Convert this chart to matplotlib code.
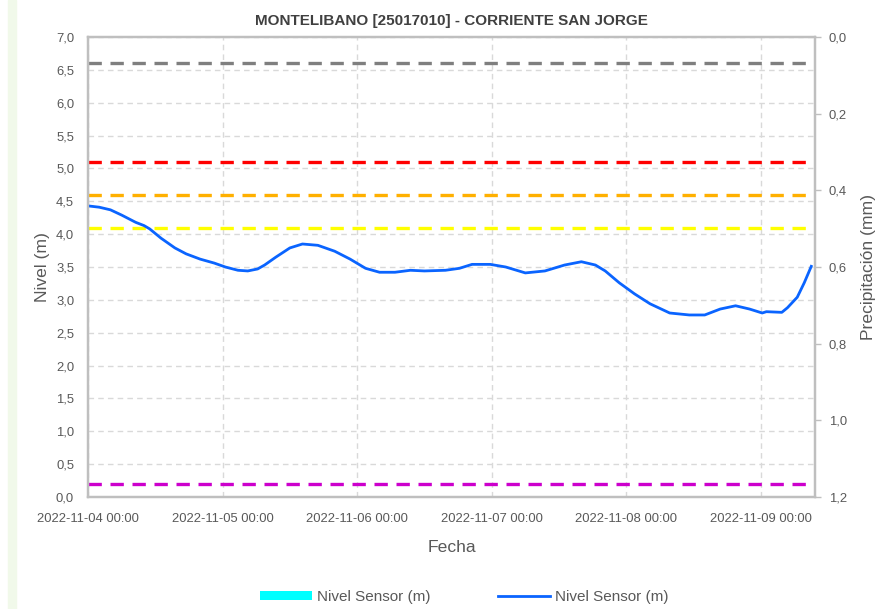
#!/usr/bin/python3.12
# Nivel del rio - Montelibano, grafica de nivel y umbrales
import numpy as np
import pandas as pd
import matplotlib
matplotlib.use("Agg")
import matplotlib.pyplot as plt
import matplotlib.dates as mdates
from matplotlib.patches import Patch, Rectangle
from matplotlib.lines import Line2D
from matplotlib.ticker import FuncFormatter, MultipleLocator

plt.rcParams['font.family'] = ['Liberation Sans', 'DejaVu Sans']

# Data
fechas = ["2022-11-04 00:00", "2022-11-04 02:00", "2022-11-04 04:00", "2022-11-04 06:00",
          "2022-11-04 08:30", "2022-11-04 10:00", "2022-11-04 11:00", "2022-11-04 13:00",
          "2022-11-04 15:30", "2022-11-04 17:30", "2022-11-04 20:00", "2022-11-04 22:30",
          "2022-11-05 00:30", "2022-11-05 02:45", "2022-11-05 04:30", "2022-11-05 06:15",
          "2022-11-05 07:30", "2022-11-05 09:30", "2022-11-05 12:00", "2022-11-05 14:15",
          "2022-11-05 17:00", "2022-11-05 20:00", "2022-11-05 22:45", "2022-11-06 01:30",
          "2022-11-06 04:00", "2022-11-06 06:45", "2022-11-06 09:30", "2022-11-06 12:00",
          "2022-11-06 15:45", "2022-11-06 18:15", "2022-11-06 20:30", "2022-11-06 23:45",
          "2022-11-07 02:30", "2022-11-07 06:00", "2022-11-07 09:30", "2022-11-07 13:00",
          "2022-11-07 16:00", "2022-11-07 18:30", "2022-11-07 20:15", "2022-11-07 22:45",
          "2022-11-08 01:30", "2022-11-08 04:15", "2022-11-08 07:45", "2022-11-08 11:15",
          "2022-11-08 14:00", "2022-11-08 16:45", "2022-11-08 19:30", "2022-11-08 22:00",
          "2022-11-09 00:15", "2022-11-09 01:00", "2022-11-09 03:45", "2022-11-09 04:45",
          "2022-11-09 06:30", "2022-11-09 07:45", "2022-11-09 09:00"]
nivel = [4.43, 4.41, 4.37, 4.29, 4.18, 4.13, 4.08, 3.94, 3.79, 3.70, 3.62, 3.56,
         3.50, 3.45, 3.44, 3.47, 3.53, 3.65, 3.79, 3.85, 3.83, 3.74, 3.62, 3.48,
         3.42, 3.42, 3.45, 3.44, 3.45, 3.48, 3.54, 3.54, 3.50, 3.41, 3.44, 3.53,
         3.58, 3.53, 3.44, 3.26, 3.09, 2.94, 2.80, 2.77, 2.77, 2.86, 2.91, 2.86,
         2.80, 2.82, 2.81, 2.88, 3.04, 3.26, 3.51]

umbrales = [6.6, 5.1, 4.6, 4.1, 0.2]
colores_umbral = ['#7f7f7f', '#ff0000', '#ffb000', '#ffff00', '#cc00cc']

titulo = "MONTELIBANO [25017010] - CORRIENTE SAN JORGE"

t = pd.to_datetime(fechas)
gray_txt = '#595959'
spine_col = '#bfbfbf'

fig = plt.figure(figsize=(8.81, 6.09), dpi=100)
fig.patches.append(Rectangle((8 / 881, 0), 8 / 881, 1, transform=fig.transFigure,
                             color='#f1f9ea', zorder=0))
ax = fig.add_axes([88 / 881, 1 - 497 / 609, (815 - 88) / 881, (497 - 37) / 609])

# grid
ax.grid(True, color='#d9d9d9', linestyle=(0, (4, 3)), linewidth=1.0)
ax.set_axisbelow(True)

for u, c in zip(umbrales, colores_umbral):
    ax.axhline(u, color=c, linewidth=2.4, dashes=(4, 2.6), zorder=2)

ax.plot(t, nivel, color='#0a64ff', linewidth=2.0, zorder=3)

ax.set_ylim(0, 7)
ax.yaxis.set_major_locator(MultipleLocator(0.5))
ax.yaxis.set_major_formatter(FuncFormatter(lambda v, p: f"{v:.1f}".replace('.', ',')))
ax.set_xlim(pd.Timestamp("2022-11-04 00:00"), pd.Timestamp("2022-11-09 09:40"))
ax.xaxis.set_major_locator(mdates.DayLocator())
ax.xaxis.set_major_formatter(mdates.DateFormatter('%Y-%m-%d %H:%M'))
ax.tick_params(axis='both', length=0, labelsize=9.4, labelcolor=gray_txt)
ax.tick_params(axis='y', pad=10)
ax.tick_params(axis='x', pad=11.5)

for s in ax.spines.values():
    s.set_color(spine_col)
    s.set_linewidth(1.6)

ax.set_ylabel("Nivel (m)", fontsize=12.6, color=gray_txt, labelpad=4)
ax.set_xlabel("Fecha", fontsize=12.6, color=gray_txt, labelpad=11)
ax.set_title(titulo, fontsize=11, fontweight='bold', color='#404040', pad=9)

# eje de precipitacion (derecha, invertido)
ax2 = ax.twinx()
ax2.set_ylim(1.2, 0)
ax2.yaxis.set_major_locator(MultipleLocator(0.2))
ax2.yaxis.set_major_formatter(FuncFormatter(lambda v, p: f"{v:.1f}".replace('.', ',')))
ax2.tick_params(axis='y', length=4, width=1, color=spine_col, labelsize=9.4,
                labelcolor=gray_txt, pad=6)
for s in ax2.spines.values():
    s.set_color(spine_col)
    s.set_linewidth(1.6)
ax2.set_ylabel("Precipitación (mm)", fontsize=12.6, color=gray_txt, labelpad=10)

handles = [Patch(facecolor='#00ffff', edgecolor='none'),
           Line2D([0], [0], color='#0a64ff', linewidth=2.0)]
fig.legend(handles, ["Nivel Sensor (m)", "Nivel Sensor (m)"], loc='center',
           bbox_to_anchor=(0.527, 0.02), ncol=2, frameon=False, fontsize=11,
           handlelength=3.4, handleheight=0.6, handletextpad=0.35, columnspacing=4.4,
           labelcolor=gray_txt)

fig.savefig("out.png", dpi=100)
